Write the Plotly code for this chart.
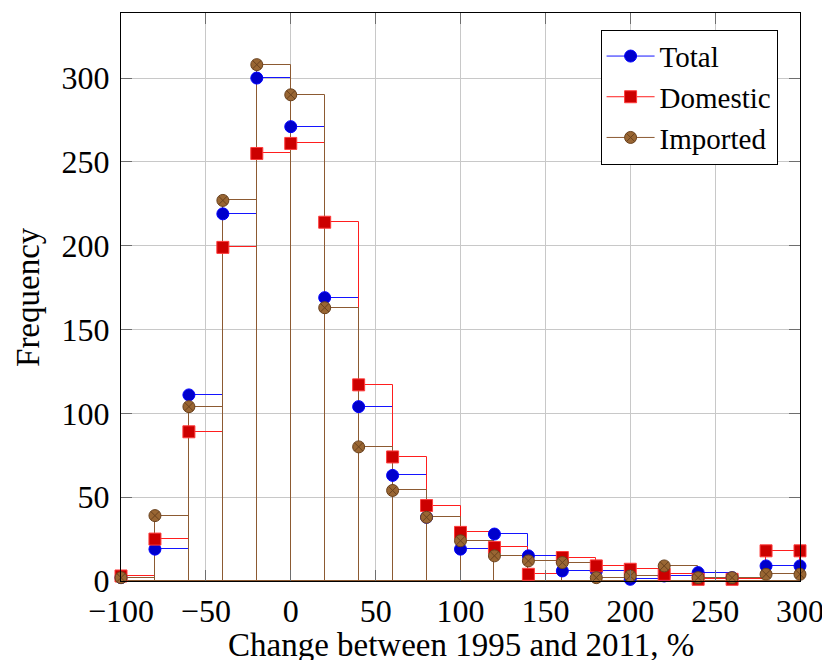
import plotly.graph_objects as go

# Histogram bins (left edges) and frequencies; the last value repeats so the
# final interval ends with a mark at 300.
edges = [-100, -80, -60, -40, -20, 0, 20, 40, 60, 80, 100, 120, 140, 160,
         180, 200, 220, 240, 260, 280, 300]
total = [2, 19, 111, 219, 300, 271, 169, 104, 63, 38, 19, 28, 15, 6,
         6, 1, 3, 5, 2, 9, 9]
domestic = [3, 25, 89, 199, 255, 261, 214, 117, 74, 45, 29, 20, 4, 14,
            9, 7, 4, 1, 1, 18, 18]
imported = [2, 39, 104, 227, 308, 290, 163, 80, 54, 38, 24, 15, 12, 11,
            2, 3, 9, 2, 2, 4, 4]

series = [
    ("Total", total, "rgb(20,20,255)", "rgb(0,0,204)", "circle", "rgb(0,0,255)"),
    ("Domestic", domestic, "rgb(255,30,30)", "rgb(204,0,0)", "square", "rgb(255,60,60)"),
    ("Imported", imported, "rgb(140,90,50)", "rgb(153,102,51)", "circle-x", "rgb(105,65,30)"),
]

FONT = "Liberation Serif"
fig = go.Figure()

bin_width = edges[1] - edges[0]
for name, vals, line_c, fill_c, sym, edge_c in series:
    # interval outlines: one open rectangle per bin
    fig.add_trace(go.Bar(
        x=edges[:-1], y=vals[:-1], width=bin_width, offset=0,
        marker=dict(color="rgba(0,0,0,0)", line=dict(color=line_c, width=1)),
        showlegend=False, hoverinfo="skip",
    ))

for name, vals, line_c, fill_c, sym, edge_c in series:
    # marks at every bin edge
    fig.add_trace(go.Scatter(
        x=edges, y=vals, mode="markers", cliponaxis=False,
        marker=dict(symbol=sym, size=12, color=fill_c, line=dict(color=edge_c, width=1)),
        showlegend=False,
    ))
    # legend entry
    fig.add_trace(go.Scatter(
        x=[None], y=[None], mode="lines+markers", name=name,
        line=dict(color=line_c, width=1),
        marker=dict(symbol=sym, size=12, color=fill_c, line=dict(color=edge_c, width=1)),
    ))

axis_common = dict(
    showline=True, linecolor="black", linewidth=1, mirror="allticks",
    ticks="inside", ticklen=11, tickcolor="rgb(110,110,110)", tickwidth=1,
    showgrid=True, gridcolor="rgb(200,200,200)", gridwidth=1,
    zeroline=False, tickfont=dict(family=FONT, size=32, color="black"),
    ticklabeloverflow="allow", automargin=False,
)

fig.update_layout(
    width=822, height=660,
    margin=dict(l=121, r=22, t=13, b=79),
    paper_bgcolor="white", plot_bgcolor="white",
    barmode="overlay", bargap=0,
    font=dict(family=FONT, size=31, color="black"),
    xaxis=dict(range=[-100, 300], tickvals=[-100, -50, 0, 50, 100, 150, 200, 250, 300],
               ticklabelstandoff=2, **axis_common),
    yaxis=dict(range=[0, 338.8], tickvals=[0, 50, 100, 150, 200, 250, 300],
               ticklabelstandoff=4, **axis_common),
    legend=dict(x=0.967, y=0.9706, xanchor="right", yanchor="top",
                bgcolor="white", bordercolor="black", borderwidth=1,
                font=dict(family=FONT, size=29, color="black"),
                tracegroupgap=0, itemwidth=48),
    annotations=[
        dict(text="Change between 1995 and 2011, %", xref="paper", yref="paper",
             x=0.5, y=-0.113, xanchor="center", yanchor="middle", showarrow=False,
             font=dict(family=FONT, size=33, color="black")),
        dict(text="Frequency", xref="paper", yref="paper", textangle=-90,
             x=-0.137, y=0.5, xanchor="center", yanchor="middle", showarrow=False,
             font=dict(family=FONT, size=33, color="black")),
    ],
)

fig.write_html("out.html")
